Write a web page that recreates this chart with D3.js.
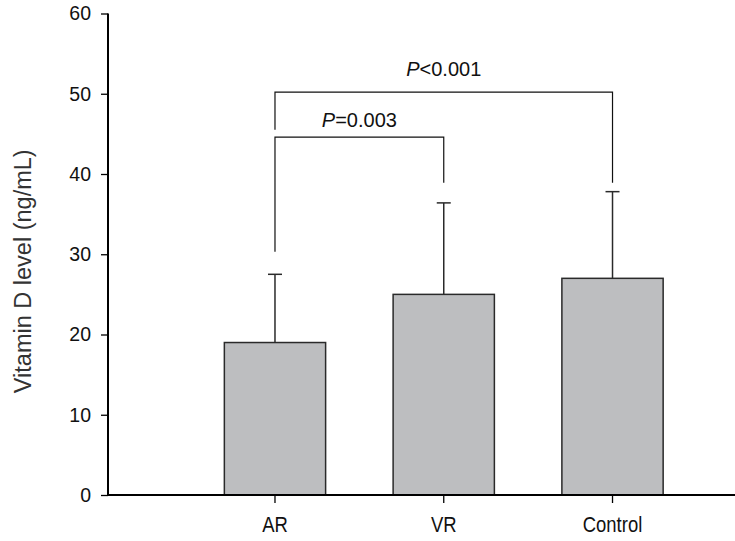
<!DOCTYPE html>
<html>
<head>
<meta charset="utf-8">
<script src="https://cdn.jsdelivr.net/npm/d3@7/dist/d3.min.js"></script>
<style>
  html, body { margin: 0; padding: 0; background: #fff; }
  svg { display: block; }
</style>
</head>
<body>
<svg id="chart" width="735" height="541"></svg>
<script>
// ---- data ----
const categories = ["AR", "VR", "Control"];
const meanValues = [19, 25, 27];
const upperErrors = [8.5, 11.4, 10.8];
const yTicks = [0, 10, 20, 30, 40, 50, 60];
const bracketFrom = ["AR", "AR"];
const bracketTo = ["VR", "Control"];
const bracketLevel = [44.6, 50.2];
const bracketLeftEnd = [30.3, 45.5];
const bracketRightEnd = [38.9, 38.9];
const bracketLabelLevel = [45.9, 52.2];
const bracketPrefix = ["P", "P"];
const bracketRest = ["=0.003", "<0.001"];
const yTitle = "Vitamin D level (ng/mL)";

// ---- layout ----
const svg = d3.select("#chart");
const axisX = 108, axisY = 495, topY = 13.5;

const y = d3.scaleLinear().domain([0, 60]).range([axisY, topY]);
const x = d3.scaleBand().domain(categories).range([190.6, 696.9])
  .paddingInner(0.4).paddingOuter(0.2);

const tickFont = "'Liberation Sans', Arial, sans-serif";

// bars
svg.append("g").selectAll("rect").data(categories).join("rect")
  .attr("x", d => x(d))
  .attr("y", (d, i) => y(meanValues[i]))
  .attr("width", x.bandwidth())
  .attr("height", (d, i) => y(0) - y(meanValues[i]))
  .attr("fill", "#bdbec0")
  .attr("stroke", "#2a2a2a")
  .attr("stroke-width", 1.5);

// error bars
const eg = svg.append("g").attr("stroke", "#2a2a2a").attr("stroke-width", 1.5);
categories.forEach((c, i) => {
  const cx = x(c) + x.bandwidth() / 2;
  const top = y(meanValues[i] + upperErrors[i]);
  eg.append("line").attr("x1", cx).attr("x2", cx)
    .attr("y1", y(meanValues[i])).attr("y2", top);
  eg.append("line").attr("x1", cx - 7).attr("x2", cx + 7)
    .attr("y1", top).attr("y2", top);
});

// y axis
const yAxis = d3.axisLeft(y).tickValues(yTicks).tickSize(7).tickPadding(10);
const gy = svg.append("g").attr("transform", `translate(${axisX},0)`).call(yAxis);
gy.select(".domain").remove();
gy.selectAll(".tick line").attr("stroke", "#000").attr("stroke-width", 1.3);
gy.selectAll(".tick text").attr("font-family", tickFont).attr("font-size", 19.5)
  .attr("fill", "#111");
svg.append("line").attr("x1", axisX).attr("x2", axisX)
  .attr("y1", topY).attr("y2", axisY + 1).attr("stroke", "#000").attr("stroke-width", 2);

// x axis
const xAxis = d3.axisBottom(x).tickSize(8).tickPadding(13);
const gx = svg.append("g").attr("transform", `translate(0,${axisY})`).call(xAxis);
gx.select(".domain").remove();
gx.selectAll(".tick line").attr("stroke", "#000").attr("stroke-width", 1.3);
gx.selectAll(".tick text").attr("font-family", tickFont).attr("font-size", 22)
  .attr("fill", "#111").attr("dy", "0.71em")
  .attr("transform", "scale(0.84,1)");
svg.append("line").attr("x1", axisX - 1).attr("x2", 735)
  .attr("y1", axisY).attr("y2", axisY).attr("stroke", "#000").attr("stroke-width", 2);

// y title
svg.append("text")
  .attr("transform", `translate(31,${(y(0) + y(60)) / 2 + 17}) rotate(-90)`)
  .attr("text-anchor", "middle")
  .attr("font-family", tickFont)
  .attr("font-size", 23.5)
  .attr("fill", "#333")
  .text(yTitle);

// significance brackets
const bg = svg.append("g");
bracketFrom.forEach((f, i) => {
  const x1 = x(f) + x.bandwidth() / 2;
  const x2 = x(bracketTo[i]) + x.bandwidth() / 2;
  const ly = y(bracketLevel[i]);
  bg.append("path")
    .attr("d", `M${x1},${y(bracketLeftEnd[i])}V${ly}H${x2}V${y(bracketRightEnd[i])}`)
    .attr("fill", "none").attr("stroke", "#111").attr("stroke-width", 1.2);
  const t = bg.append("text")
    .attr("x", (x1 + x2) / 2)
    .attr("y", y(bracketLabelLevel[i]))
    .attr("text-anchor", "middle")
    .attr("font-family", tickFont)
    .attr("font-size", 20)
    .attr("fill", "#111");
  t.append("tspan").attr("font-style", "italic").text(bracketPrefix[i]);
  t.append("tspan").text(bracketRest[i]);
});
</script>
</body>
</html>
